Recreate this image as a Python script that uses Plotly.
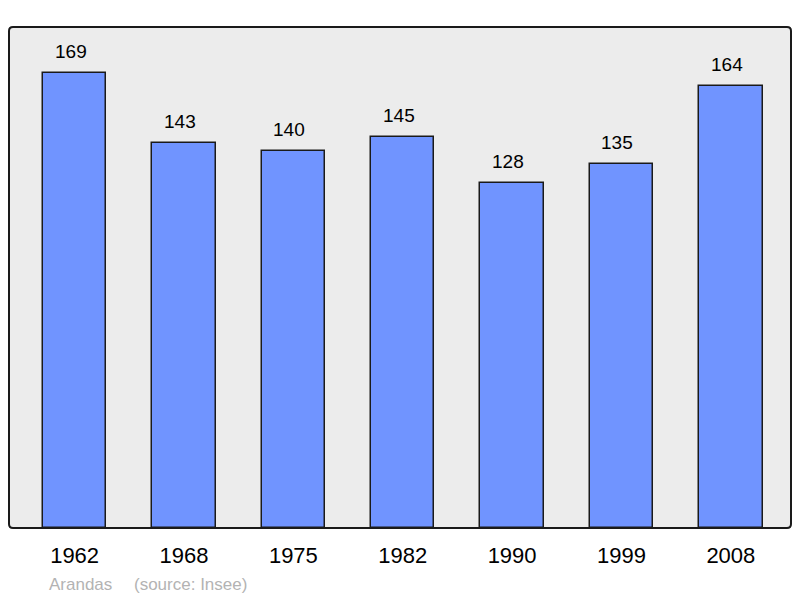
import plotly.graph_objects as go

years = ["1962", "1968", "1975", "1982", "1990", "1999", "2008"]
population = [169, 143, 140, 145, 128, 135, 164]
commune = "Arandas"
source = "(source: Insee)"

pos = list(range(len(years)))

fig = go.Figure()
fig.add_trace(go.Bar(
    x=pos,
    y=population,
    width=0.58,
    marker=dict(color="#7094ff", line=dict(color="#1a1a1a", width=1.5)),
    hoverinfo="skip",
))

# valeurs au-dessus des barres (légèrement décalées à gauche comme l'original)
for p, v in zip(pos, population):
    fig.add_annotation(
        x=p, y=v, text=str(v), showarrow=False,
        yanchor="bottom", yshift=9, xshift=-4,
        font=dict(family="Liberation Sans", size=19, color="#000000"),
    )

fig.add_annotation(xref="paper", yref="paper", x=0.049, y=-0.113, text=commune,
                   showarrow=False, xanchor="left", yanchor="middle",
                   font=dict(family="Liberation Sans", size=17, color="#b3b3b3"))
fig.add_annotation(xref="paper", yref="paper", x=0.157, y=-0.113, text=source,
                   showarrow=False, xanchor="left", yanchor="middle",
                   font=dict(family="Liberation Sans", size=17, color="#b3b3b3"))

# cadre aux coins arrondis
rx, ry = 4 / 782, 4 / 501
cadre = (f"M {rx},0 L {1 - rx},0 Q 1,0 1,{ry} L 1,{1 - ry} Q 1,1 {1 - rx},1 "
         f"L {rx},1 Q 0,1 0,{1 - ry} L 0,{ry} Q 0,0 {rx},0 Z")
fig.add_shape(type="path", path=cadre, xref="paper", yref="paper",
              line=dict(color="#1a1a1a", width=2), layer="above")

fig.update_xaxes(
    range=[-0.60, 6.55],
    tickmode="array", tickvals=pos, ticktext=years,
    ticks="outside", ticklen=8, tickcolor="rgba(0,0,0,0)",
    tickfont=dict(family="Liberation Sans", size=22, color="#000000"),
    showline=False, showgrid=False, zeroline=False, fixedrange=True,
)
fig.update_yaxes(
    range=[0, 186],
    showticklabels=False, showgrid=False, zeroline=False,
    showline=False, fixedrange=True,
)
# la page ajoute ~8px de marge autour de la figure
fig.update_layout(
    width=800, height=598,
    margin=dict(l=1, r=17, t=19, b=78),
    plot_bgcolor="#ececec",
    paper_bgcolor="#ffffff",
    showlegend=False,
    bargap=0,
)

fig.write_html("out.html", config={"displayModeBar": False})
